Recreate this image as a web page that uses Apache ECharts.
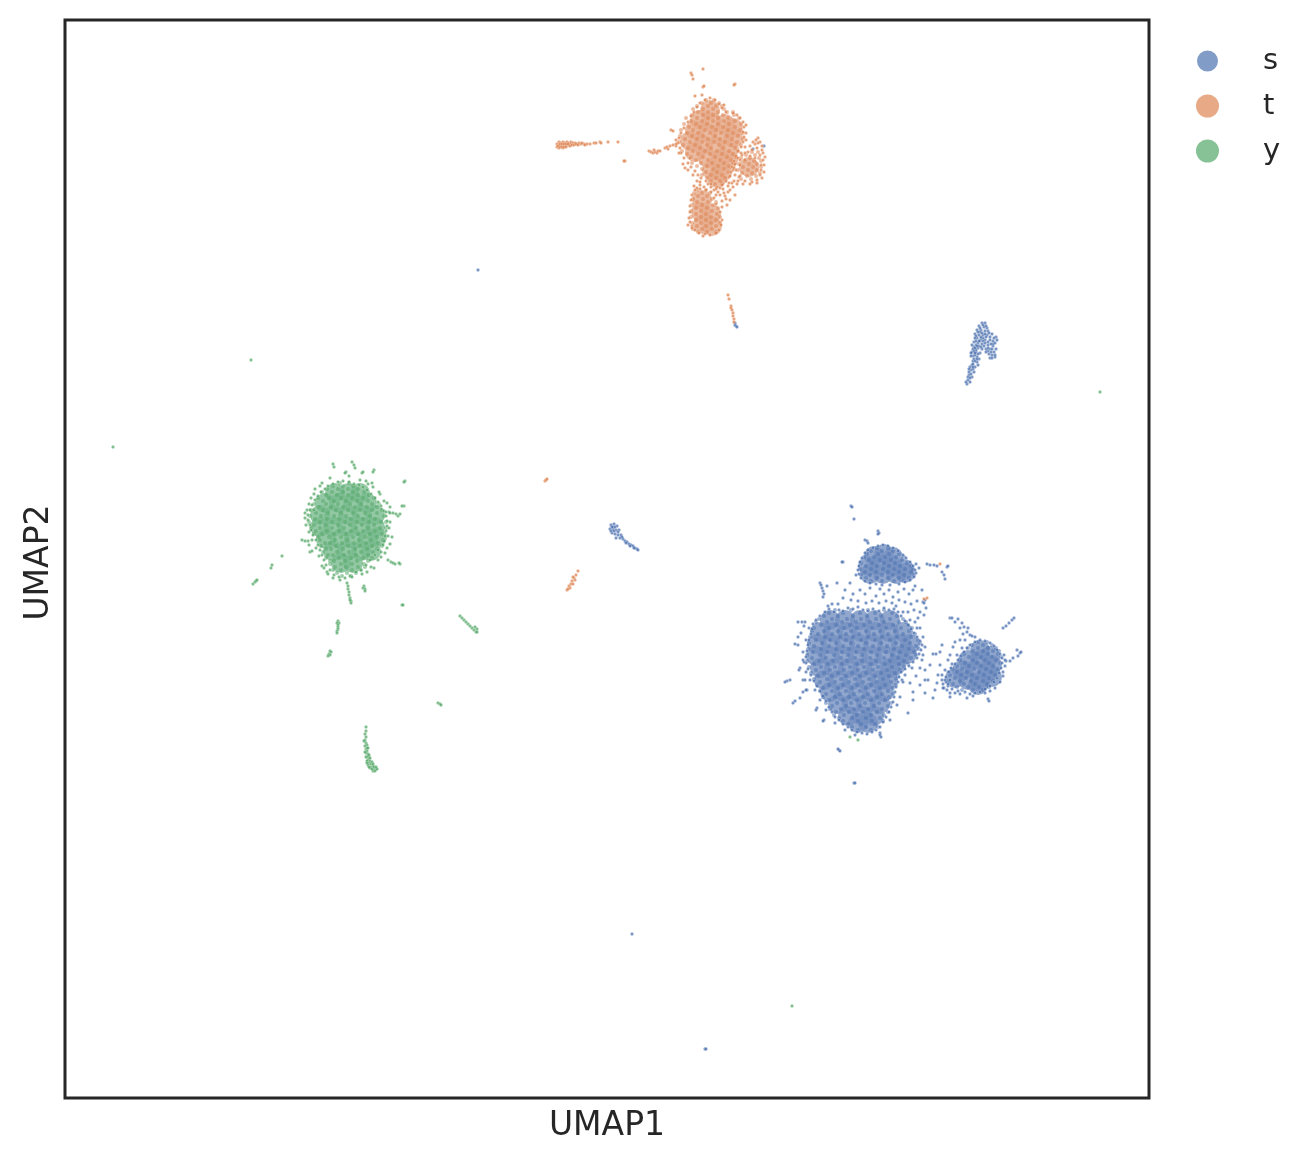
<!DOCTYPE html>
<html><head><meta charset="utf-8">
<style>html,body{margin:0;padding:0;background:#fff}#c{width:1312px;height:1162px}</style>
<script src="https://cdn.jsdelivr.net/npm/echarts@6/dist/echarts.min.js"></script></head>
<body><div id="c"></div>
<script>
const categories=['s','t','y'];
// dense interiors of the clusters (axis units)
const sCore=[[830,620],[845,620],[860,620],[875,620],[890,620],
[820,632],[833,632],[847,632],[861,632],[875,632],[889,632],[903,632],
[817,644],[831,644],[845,644],[859,644],[873,644],[887,644],[901,644],[910,644],
[816,656],[830,656],[844,656],[858,656],[872,656],[886,656],[900,656],[907,654],
[820,668],[834,668],[848,668],[862,668],[876,668],[890,668],[896,665],
[824,680],[838,680],[852,680],[866,680],[880,680],[888,680],
[830,692],[844,692],[858,692],[872,692],[884,692],
[838,704],[852,704],[866,704],[880,704],
[848,716],[862,716],[874,716],[858,723],[868,723],
[874,556],[884,554],[893,557],[868,566],[880,565],[892,566],[904,569],[870,574],[883,574],[896,574],[905,573],
[980,650],[990,656],[968,660],[980,660],[992,665],[962,670],[975,670],[988,672],[955,678],[968,680],[980,682],[992,677],[978,685]];
const tCore=[[710,110],[700,120],[712,122],[725,124],[733,128],[695,130],[708,133],[721,135],[733,138],[690,141],[703,145],[716,147],[729,149],[695,152],[708,158],[720,160],[728,160],[712,170],[722,172],[717,178],
[749,167],[702,200],[701,212],[711,214],[703,224],[712,226]];
const yCore=[[335,493],[349,493],[360,493],[325,503],[339,503],[353,503],[367,503],
[320,515],[334,515],[348,515],[362,515],[375,515],[320,527],[333,527],[347,527],[361,527],[375,527],
[326,539],[340,539],[354,539],[368,539],[377,537],[333,551],[347,551],[361,551],[371,551],[341,563],[353,563]];
// points seen inside the dense clusters, by row: [y, x, x, ...]
const sRows=[[610,835,851,868,884],[613,829,843,860,875,892],[616,824,838,853,867,881,897],[619,819,832,847,861,876,890,903],[622,816,827,842,856,870,884,899,906],[625,821,836,850,864,879,893,908],[628,814,829,844,857,872,886,901,912],[631,812,824,838,851,866,880,895,909],[634,818,832,846,859,874,888,903,915],[637,810,825,840,853,868,882,897,911],[640,816,830,846,861,875,890,905,918],[643,809,822,836,851,866,881,896,910,920],[646,814,829,843,858,873,887,902,916],[649,808,821,836,849,864,879,894,909,919],[652,813,827,842,856,871,886,900,914],[655,807,820,834,848,862,877,892,906,916],[658,812,826,841,855,870,884,898,911],[661,807,819,833,847,862,876,890,904],[664,814,828,842,857,871,885,899,908],[667,809,821,835,850,864,878,892,904],[670,816,830,844,858,873,887,900],[673,811,824,838,852,866,881,895],[676,818,832,846,860,875,889,898],[679,814,827,841,855,869,883,896],[682,820,835,849,863,877,891],[685,817,829,843,857,871,885,896],[688,823,838,852,866,880,893],[691,820,832,846,860,874,888],[694,826,840,854,868,882,893],[697,823,835,849,863,877,889],[700,829,843,857,871,885],[703,826,837,851,865,879,891],[706,832,846,860,874,888],[709,830,841,854,868,882],[712,836,849,863,877,888],[715,834,844,857,871,884],[718,839,852,866,880],[721,843,858,872,883],[724,848,861,875],[727,852,866,878],[730,858,871],
[548,877,888],[551,871,882,893],[554,867,878,889,899],[557,864,874,885,896,904],[560,869,880,891,902],[563,861,872,884,895,907],[566,866,877,889,900,911],[569,860,871,883,894,905,913],[572,865,876,888,899,911],[575,861,870,882,893,904,914],[578,866,877,888,899,909],[581,871,882,894,904],
[642,978,987],[645,972,983,992],[648,968,978,988,996],[651,973,983,993,999],[654,964,977,988,998],[657,969,981,992,1001],[660,960,973,985,996],[663,965,977,989,1000],[666,957,969,981,993],[669,952,962,974,986,998],[672,957,967,979,991],[675,950,961,972,984,995],[678,955,966,977,989],[681,949,960,971,983,993],[684,953,964,975,987],[687,957,968,979,989],[690,962,973,983]];
const tRows=[[100,706,714],[103,702,711,719],[106,697,708,716,722],[109,693,703,713,724],[112,698,708,718,727,733],[115,692,703,713,723,734],[118,686,697,708,718,728,739],[121,691,702,713,724,735],[124,684,696,707,718,729,741],[127,689,700,712,723,735],[130,681,693,705,716,728,740],[133,687,698,710,721,733,743],[136,680,692,703,715,727,738],[139,685,697,708,720,732,743],[142,679,690,702,714,725,737],[145,683,695,707,719,731,741],[148,688,700,711,723,735],[151,682,693,705,717,729,738],[154,687,698,710,722,733],[157,691,703,715,727,736],[160,696,708,720,731],[163,692,701,712,724,733],[166,697,707,718,729],[169,702,713,724],[172,706,717,728],[175,702,711,722],[178,707,716,725],[181,711,720],[184,715,722],
[152,752,758],[155,746,755],[158,741,750,759],[161,745,754,761],[164,739,749,757],[167,743,753,761],[170,738,748,757],[173,742,752,760],[176,747,756],[179,741,751],
[190,697,706],[193,694,702,710],[196,698,707],[199,693,703,712],[202,697,708,716],[205,692,702,713],[208,696,707,718],[211,691,701,712],[214,696,706,717],[217,691,701,711,720],[220,696,706,716],[223,692,701,711,720],[226,697,706,716],[229,693,702,712],[232,698,707,716]];
const yRows=[[483,340,349],[486,333,343,353],[489,327,338,348,358],[492,322,332,343,353,364],[495,326,337,348,358,369],[498,318,329,341,352,363,374],[501,323,334,346,357,368],[504,314,326,338,350,361,372,379],[507,319,331,343,355,367,377],[510,311,323,336,348,360,372,382],[513,316,328,341,353,365,377],[516,310,321,334,346,358,370,384],[519,315,327,339,351,363,375],[522,309,320,332,345,357,369,381,386],[525,314,326,338,350,362,374],[528,311,320,332,344,356,368,380,386],[531,316,327,339,351,363,375],[534,314,322,334,346,358,370,382],[537,318,329,341,353,365,377],[540,320,335,347,359,371,383],[543,325,330,342,354,366,378],[546,321,336,348,360,372,382],[549,326,331,343,355,367,377],[552,323,337,349,361,373],[555,328,333,344,356,368],[558,326,339,351,363,372],[561,330,334,345,357,368],[564,330,341,352,364],[567,335,346,358,365],[570,333,341,352,361],[573,337,347,356],[576,342,351]];
// individually visible points
const sMainEdge=[[813,624],[816,620],[820,616],[825,612],[829,609],[834,612],[839,610],[843,611],[848,608],[853,609],[858,607],[863,610],[868,611],[873,609],[879,611],[884,608],[889,610],[894,609],[898,612],[901,616],[905,621],[908,625],[911,629],[914,633],[917,637],[920,641],[922,645],[921,650],[919,654],[917,658],[913,662],[909,666],[905,669],[901,672],[899,677],[898,682],[896,687],[895,692],[894,697],[893,702],[891,707],[889,712],[886,717],[883,722],[880,727],[876,730],[872,732],[867,734],[862,733],[857,732],[852,730],[848,727],[843,724],[839,720],[835,717],[832,712],[829,707],[826,701],[823,696],[820,691],[817,686],[814,681],[811,675],[808,669],[806,663],[806,657],[807,651],[808,645],[809,640],[811,634],[812,629],
[809,628],[806,640],[803,652],[804,662],[806,672],[810,680],[815,690],[820,700],[826,710],[835,723],[845,730],[855,735],[880,733],[890,720],[897,705],[902,680],[905,675],[912,668],[922,660],[925,647],[923,637],[917,628],[910,620],[903,612],[896,606]];
const sTopEdge=[[883,545],[878,546],[888,546],[873,548],[893,548],[868,550],[898,551],[865,553],[903,555],[862,558],[906,558],[860,562],[910,562],[859,566],[913,566],[858,570],[915,570],[859,574],[916,573],[861,578],[914,577],[865,581],[910,580],[870,583],[905,582],[876,584],[899,584],[882,585],[890,585],[919,568],[916,564],[856,575]];
const sRightEdge=[[980,640],[985,641],[975,642],[990,643],[970,645],[994,646],[967,648],[997,650],[964,652],[1000,654],[961,656],[1002,658],[958,660],[1002,663],[955,664],[1001,668],[951,668],[999,673],[948,672],[997,678],[946,677],[994,682],[946,682],[990,686],[948,686],[985,689],[952,689],[980,692],[958,691],[975,693],[965,692],[970,694],[947,690],[950,693],[1003,672],[1005,666],
[945,680],[943,684],[949,672],[952,664],[957,655],[962,648],[1004,655],[1006,661],[1003,676],[1000,682],[995,688],[990,691],[985,693],[973,696],[960,694],[955,693],[948,684],[944,688]];
const sStray=[[851,506],[852,507],[854,519],[878,531],[879,533],[878,534],[865,540],[867,541],[868,543],[843,562],[842,562],[820,583],[821,585],[822,588],[823,591],[824,594],[823,597],[827,586],[837,583],
[850,583],[845,590],[853,594],[860,590],[865,594],[870,588],[876,596],[880,589],[884,594],[889,590],[893,597],[898,592],[904,589],[909,594],[913,590],[915,586],[922,590],[843,598],[851,600],[858,601],[866,603],[872,601],[879,603],[886,601],[892,603],[899,600],[905,602],[911,604],[917,601],[914,610],[920,612],[924,615],[918,618],[926,608],[838,604],[832,604],[828,606],[908,612],[915,622],[920,628],
[927,564],[930,565],[934,565],[937,566],[947,567],[948,566],[942,572],[944,575],[945,579],[923,602],[924,603],[925,600],
[839,750],[838,749],[840,751],[854,783],[855,783],
[787,681],[785,682],[790,680],[793,703],[795,701],[800,698],[803,680],[805,680],[803,692],[807,690],[798,622],[802,622],[805,622],[804,626],[798,637],[801,633],[795,644],[798,645],[800,668],[799,670],[803,660],[806,690],[817,708],[816,710],[824,720],[823,721],[880,735],[881,737],
[923,655],[925,670],[920,668],[933,654],[936,654],[940,652],[942,645],[913,692],[913,700],[908,713],[903,682],[900,697],[910,683],[920,685],[925,693],[928,680],[933,698],[935,690],[938,675],[940,665],[943,688],[937,683],[925,680],[916,676],[930,665],
[950,618],[952,618],[955,622],[958,619],[962,623],[964,627],[960,628],[967,632],[970,635],[963,634],[968,628],[972,636],[960,640],[965,640],[975,637],[953,647],[955,642],[950,655],[948,660],[945,670],[942,675],[942,680],[950,680],
[1003,628],[1006,626],[1009,623],[1012,620],[1014,618],[1020,653],[1018,656],[1017,650],[1021,652],[988,699],[989,701],[967,698],[950,697],[1010,661],[1005,660],[1013,658],
[478,270],[632,934],[705,1049],[706,1049],[736,326],[735,325],[737,327],[735,323],[764,146],[753,149]];
const sRiver=[[982,323],[985,323],[979,326],[984,327],[987,328],[977,330],[981,330],[985,331],[975,334],[979,335],[983,335],[987,335],[992,334],[996,337],[977,338],[981,339],[985,340],[990,340],[993,341],[974,342],[978,343],[982,344],[988,345],[993,346],[974,347],[978,348],[982,349],[990,349],[972,352],[976,352],[980,353],[992,355],[973,356],[977,357],[990,358],[995,357],[973,361],[977,362],[972,365],[975,367],[971,370],[974,372],[969,375],[972,377],[968,380],[970,382],[967,384],[986,337],[983,341],[979,346],[976,350],[974,359],[997,340],[994,352],[988,351],
[980,332],[988,331],[976,336],[990,337],[994,338],[972,345],[976,345],[980,341],[984,346],[986,349],[974,351],[978,354],[975,355],[971,356],[979,359],[975,361],[973,364],[978,365],[970,367],[973,369],[969,372],[971,374],[992,349],[996,349],[993,344],[989,354],[986,352],
[983,325],[980,328],[986,326],[978,332],[982,333],[989,333],[985,334],[975,338],[979,341],[983,338],[988,342],[976,341],[991,344],[995,343],[973,349],[977,346],[981,347],[985,343],[991,352],[988,348],[995,355],[992,358],[975,353],[971,353],[977,359],[973,367],[968,377],[966,382],[970,378],[981,337],[975,348],[969,369],
[611,525],[614,524],[617,526],[610,529],[613,529],[616,530],[619,530],[612,533],[615,534],[618,535],[621,535],[616,538],[620,538],[623,539],[625,541],[627,542],[629,544],[631,545],[633,546],[635,548],[637,549],[638,550],
[613,527],[611,531],[615,527],[618,532],[622,537],[614,531],[612,527],[626,543],[630,546],[634,548]];
const tEdge=[[710,98],[705,100],[715,100],[700,103],[697,107],[719,104],[722,108],[694,112],[726,112],[691,116],[733,113],[737,115],[740,118],[743,122],[688,122],[744,127],[684,128],[743,132],[681,133],[744,137],[679,138],[743,142],[678,143],[741,147],[680,148],[738,151],[681,153],[736,156],[684,158],[734,161],[688,163],[732,167],[691,167],[731,172],[695,171],[729,177],[698,175],[726,181],[701,178],[722,185],[706,181],[717,187],[711,184],[685,168],[688,170],[697,181],[700,185],[728,186],[732,183],[728,192],[725,196],[722,201],[733,187],[730,200],[735,195],[727,205],[722,207],[720,188],[714,190],
[740,160],[745,153],[752,150],[757,148],[760,142],[755,144],[762,150],[760,155],[763,160],[761,165],[761,170],[760,175],[757,180],[752,182],[745,181],[739,177],[736,170],[740,165],[755,158],[750,156],[745,160],
[693,175],[700,182],[708,184],[716,189],[723,189],[729,183],[694,186],[697,188],[704,187],[711,187],[718,192],[724,193],[730,190],[734,181],[737,184],[726,199],[720,195],[716,195],[740,176],[738,181],[743,184],[750,184],[757,183],[762,178],[764,172],[764,165],[765,157],[763,153],[758,143],[762,146],[748,152],[742,155],[738,158],[735,164],[758,138],[756,140],[753,142],[750,146],
[746,125],[746,133],[746,140],[745,147],[741,153],[676,140],[676,146],[679,153],[683,164],[690,158],[733,170],[735,175],[730,176],[734,168],
[695,190],[700,189],[706,190],[711,192],[692,195],[691,200],[690,206],[714,198],[690,212],[716,204],[689,218],[720,212],[690,222],[722,220],[692,226],[721,225],[688,225],[695,230],[719,230],[699,233],[705,234],[710,235],[716,233],[692,228],[703,236],
[703,69],[691,73],[692,75],[693,79],[703,87],[704,86],[735,84],[734,85],[695,96],[724,105],[702,95],
[557,144],[557,147],[559,142],[559,145],[559,148],[561,143],[561,146],[563,142],[563,145],[563,148],[565,143],[565,146],[567,142],[567,145],[569,143],[569,145],[571,142],[571,144],[573,143],[575,143],[577,144],[579,143],[581,144],[584,144],[587,144],[590,144],[594,143],[596,143],[600,142],[601,143],[608,142],[618,142],[625,161],[624,161],
[558,146],[560,144],[560,147],[562,144],[562,147],[564,144],[564,147],[566,144],[566,147],[568,144],[570,146],[572,145],[574,145],[576,144],[578,145],[582,143],[585,145],
[649,151],[651,152],[653,153],[655,152],[657,153],[654,150],[658,151],[660,151],[665,148],[667,147],[670,146],[673,145],[676,144],[668,149],[671,130],[673,131],
[728,295],[729,299],[731,306],[731,308],[732,310],[733,313],[733,316],[734,319],[734,322],
[578,571],[576,575],[574,578],[573,577],[575,580],[572,581],[571,584],[573,584],[569,586],[570,588],[567,590],[568,589],[545,481],[546,480],[547,479],
[940,564],[927,598],[924,599]];
const yEdge=[[343,481],[338,482],[349,482],[333,484],[354,484],[328,486],[359,485],[325,489],[363,487],[321,492],[367,490],[318,496],[371,494],[315,500],[375,498],[312,505],[378,502],[310,510],[381,506],[308,515],[384,511],[308,520],[386,516],[310,525],[387,521],[311,530],[387,526],[313,535],[386,531],[316,540],[385,536],[318,545],[384,541],[320,550],[383,545],[322,555],[378,550],[324,560],[375,555],[326,565],[370,560],[330,570],[366,565],[334,575],[361,570],[339,577],[356,572],[345,578],[350,576],[322,566],[327,572],[381,552],[387,548],[390,544],[392,537],[385,553],[378,560],[374,568],[367,572],[314,510],[305,513],[311,498],[315,489],[320,486],[368,484],[373,487],[380,494],[384,501],[390,507],[386,512],[389,528],
[307,510],[305,518],[306,525],[309,532],[312,540],[316,548],[319,556],[324,568],[328,574],[333,578],[340,580],[352,577],[362,574],[371,567],[381,557],[388,536],[390,522],[389,512],[387,503],[379,492],[372,483],[366,481],[360,480],[330,478],[322,483],[314,494],[309,504],
[333,464],[334,467],[352,462],[354,465],[355,468],[346,472],[345,473],[349,476],[362,473],[363,472],[374,470],[373,472],[405,481],[404,482],[404,506],[402,506],[390,513],[393,513],[396,514],[398,516],[400,514],[391,562],[393,563],[395,564],[400,564],[399,563],[302,540],[305,541],[308,541],[310,552],[312,551],[309,545],[388,560],
[347,583],[348,586],[348,589],[349,592],[349,595],[350,598],[351,601],[351,603],[350,600],[364,586],[363,588],[365,589],[365,591],[253,584],[255,582],[256,581],[257,580],[271,568],[272,565],[282,556],
[460,616],[462,618],[464,620],[466,622],[468,624],[470,626],[472,628],[474,630],[476,632],[477,632],[477,629],[475,627],[438,703],[440,704],[441,705],[402,605],[403,605],
[338,621],[339,623],[337,623],[338,625],[338,627],[338,629],[337,631],[337,633],[330,651],[331,652],[329,654],[330,655],[328,656],
[366,727],[366,731],[365,734],[366,737],[365,740],[366,743],[367,745],[365,746],[366,749],[367,751],[366,753],[368,754],[367,757],[369,758],[366,757],[368,760],[370,761],[367,761],[369,763],[371,764],[368,765],[371,767],[373,766],[370,768],[374,769],[376,769],[373,771],[375,771],[377,769],
[368,756],[365,752],[367,748],[369,755],[370,758],[372,762],[373,764],[367,763],[369,767],[372,769],[374,767],[376,767],[368,748],[364,741],
[251,360],[113,447],[1100,392],[792,1006],[850,737],[858,740]];

const colours=['#4c72b0','#dd8452','#55a868'];
const bases=['#7490c0','#e6aa8a','#78ba8d'];
const legendColours=['#829cc8','#e8a987','#87c296'];
function unrow(rows){const out=[];rows.forEach(r=>r.slice(1).forEach(x=>out.push([x,r[0]])));return out;}
function pts(name,i,data){return {name,type:'scatter',data,symbolSize:3.4,silent:true,
  itemStyle:{color:colours[i],opacity:.75,borderColor:'#fff',borderWidth:.3}};}
function dense(name,i,rows){return {name,type:'scatter',data:unrow(rows),symbolSize:4,silent:true,
  itemStyle:{color:colours[i],opacity:.55}};}
function core(name,i,data){return {name,type:'scatter',data,symbolSize:20,silent:true,
  itemStyle:{color:bases[i]}};}
const chart=echarts.init(document.getElementById('c'),null,{renderer:'canvas'});
chart.setOption({
  animation:false,backgroundColor:'#fff',
  grid:{left:65,top:20,width:1084,height:1078,show:true,borderColor:'#262626',borderWidth:3,backgroundColor:'#fff',outerBoundsMode:'none'},
  xAxis:{type:'value',min:65,max:1149,axisLine:{show:false},axisTick:{show:false},axisLabel:{show:false},splitLine:{show:false},
    name:'UMAP1',nameLocation:'middle',nameGap:12,nameTextStyle:{fontFamily:'DejaVu Sans',fontSize:33,color:'#262626'}},
  yAxis:{type:'value',min:20,max:1098,inverse:true,axisLine:{show:false},axisTick:{show:false},axisLabel:{show:false},splitLine:{show:false},
    name:'UMAP2',nameLocation:'middle',nameGap:9,nameTextStyle:{fontFamily:'DejaVu Sans',fontSize:33,color:'#262626',padding:[0,7,0,0]}},
  legend:{data:categories.map((n,i)=>({name:n,icon:'circle',itemStyle:{color:legendColours[i],opacity:1}})),orient:'vertical',left:1195,top:46.5,padding:0,itemWidth:23,itemHeight:23,itemGap:16,
    textStyle:{fontFamily:'DejaVu Sans',fontSize:29,color:'#262626',padding:[1,0,0,39]},selectedMode:false},
  series:[pts('s',0,sRiver),core('s',0,sCore),dense('s',0,sRows),pts('s',0,sMainEdge),pts('s',0,sTopEdge),pts('s',0,sRightEdge),pts('s',0,sStray),
          core('t',1,tCore),dense('t',1,tRows),pts('t',1,tEdge),core('y',2,yCore),dense('y',2,yRows),pts('y',2,yEdge)]
});
</script></body></html>
